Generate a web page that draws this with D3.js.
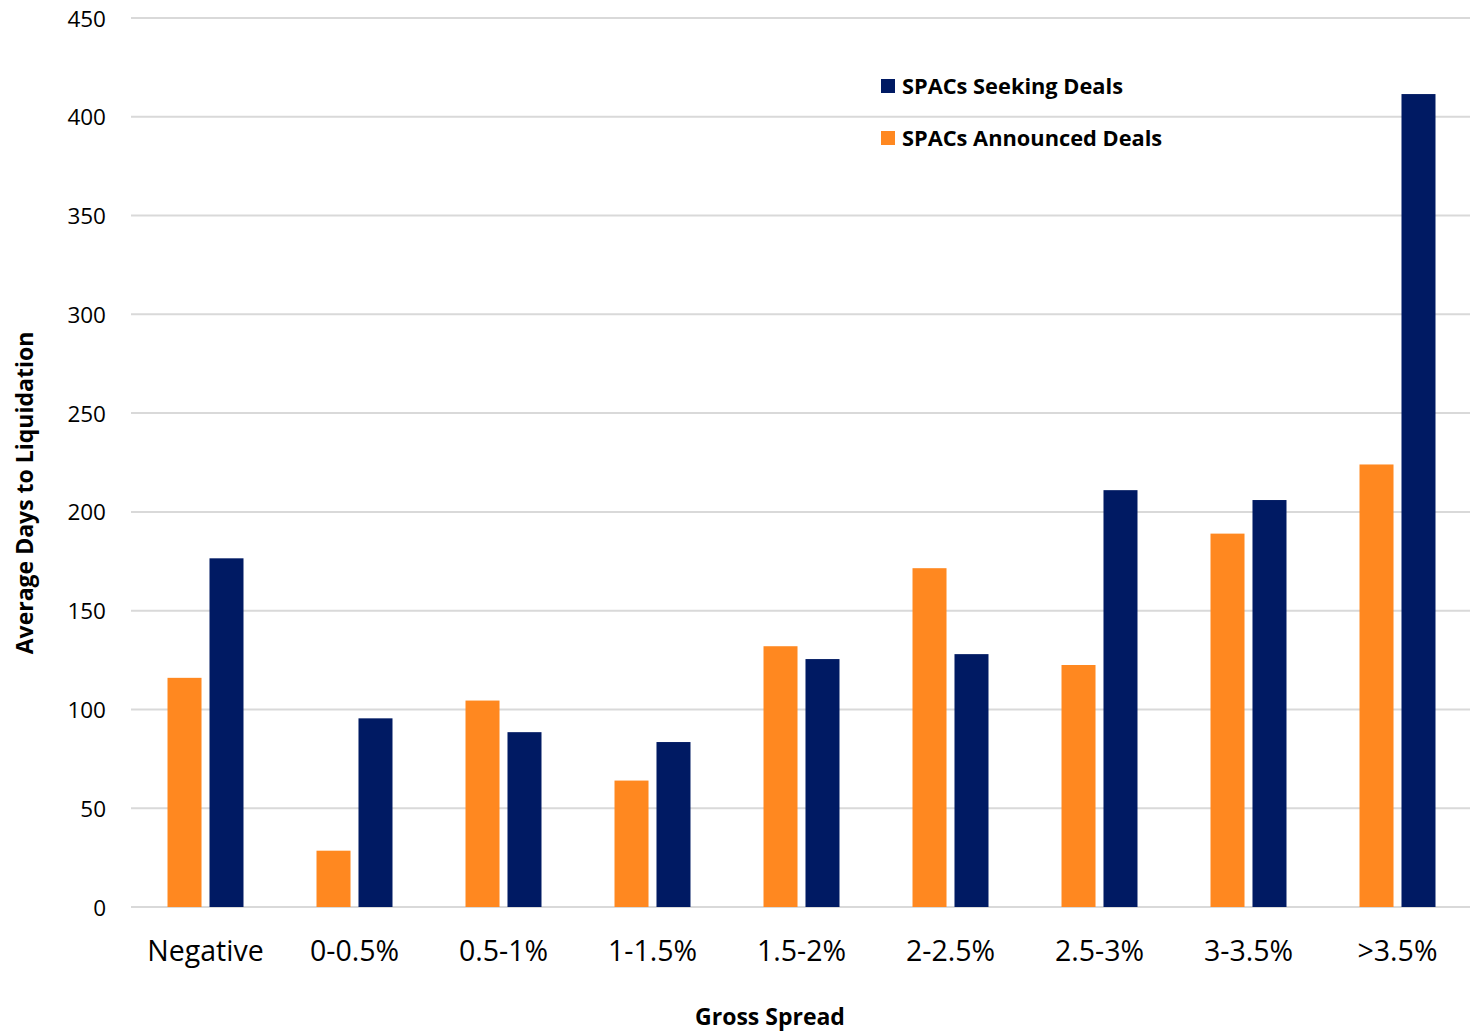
<!DOCTYPE html>
<html><head><meta charset="utf-8">
<script src="https://cdn.jsdelivr.net/npm/d3@7"></script>
<style>body{margin:0;background:#fff}svg{display:block}</style>
</head><body><svg id="c" width="1470" height="1032"></svg>
<script>
const categories = ["Negative","0-0.5%","0.5-1%","1-1.5%","1.5-2%","2-2.5%","2.5-3%","3-3.5%",">3.5%"];
const announced = [116, 28.5, 104.5, 64, 132, 171.5, 122.5, 189, 224];
const seeking = [176.5, 95.5, 88.5, 83.5, 125.5, 128, 211, 206, 411.5];
const yTicks = [0,50,100,150,200,250,300,350,400,450];
const seriesNames = ["SPACs Announced Deals","SPACs Seeking Deals"];
const legendOrder = ["SPACs Seeking Deals","SPACs Announced Deals"];
const colors = {"SPACs Announced Deals":"#FF8820","SPACs Seeking Deals":"#001A63"};

const font = "'Open Sans', sans-serif";
const svg = d3.select("#c");
const x0 = d3.scaleBand().domain(categories).range([131,1472]).paddingInner(0.49).paddingOuter(0.245);
const x1 = d3.scaleBand().domain(seriesNames).range([0, x0.bandwidth()]).paddingInner(0.19);
const y = d3.scaleLinear().domain([0,450]).range([907,18]);

// gridlines
svg.append("g").selectAll("line").data(yTicks).join("line")
  .attr("x1",131).attr("x2",1470).attr("y1",d=>y(d)).attr("y2",d=>y(d))
  .attr("stroke","#D9D9D9").attr("stroke-width",2);

// y axis labels
const yAxis = d3.axisLeft(y).tickValues(yTicks).tickSize(0).tickPadding(0);
const ya = svg.append("g").attr("transform","translate(106,0)").call(yAxis);
ya.select(".domain").remove();
ya.selectAll("text").attr("font-family",font).attr("font-size",22.5).attr("fill","#000").attr("dy","0.36em");

// bars
const rows = categories.map((c,i)=>({cat:c, vals:[{s:seriesNames[0],v:announced[i]},{s:seriesNames[1],v:seeking[i]}]}));
const g = svg.append("g").selectAll("g").data(rows).join("g").attr("transform",d=>`translate(${x0(d.cat)},0)`);
g.selectAll("rect").data(d=>d.vals).join("rect")
  .attr("x",d=>x1(d.s)).attr("width",x1.bandwidth())
  .attr("y",d=>y(d.v)).attr("height",d=>y(0)-y(d.v))
  .attr("fill",d=>colors[d.s]);

// x axis labels
const xAxis = d3.axisBottom(x0).tickSize(0).tickPadding(0);
const xa = svg.append("g").attr("transform","translate(0,934)").call(xAxis);
xa.select(".domain").remove();
xa.selectAll("text").attr("font-family",font).attr("font-size",28.5).attr("fill","#000").attr("dy","0.95em");

// axis titles
svg.append("text").attr("x",770).attr("y",1025).attr("text-anchor","middle")
  .attr("font-family",font).attr("font-weight","bold").attr("font-size",23).attr("fill","#000").text("Gross Spread");
svg.append("text").attr("transform","translate(33,493) rotate(-90)").attr("text-anchor","middle")
  .attr("font-family",font).attr("font-weight","bold").attr("font-size",23).attr("fill","#000").text("Average Days to Liquidation");

// legend
const lg = svg.append("g").selectAll("g").data(legendOrder).join("g")
  .attr("transform",(d,i)=>`translate(881,${79+i*52})`);
lg.append("rect").attr("width",14).attr("height",14).attr("fill",d=>colors[d]);
lg.append("text").attr("x",21).attr("y",7).attr("dy","0.36em")
  .attr("font-family",font).attr("font-weight","bold").attr("font-size",21.8).attr("fill","#000").text(d=>d);
</script></body></html>
